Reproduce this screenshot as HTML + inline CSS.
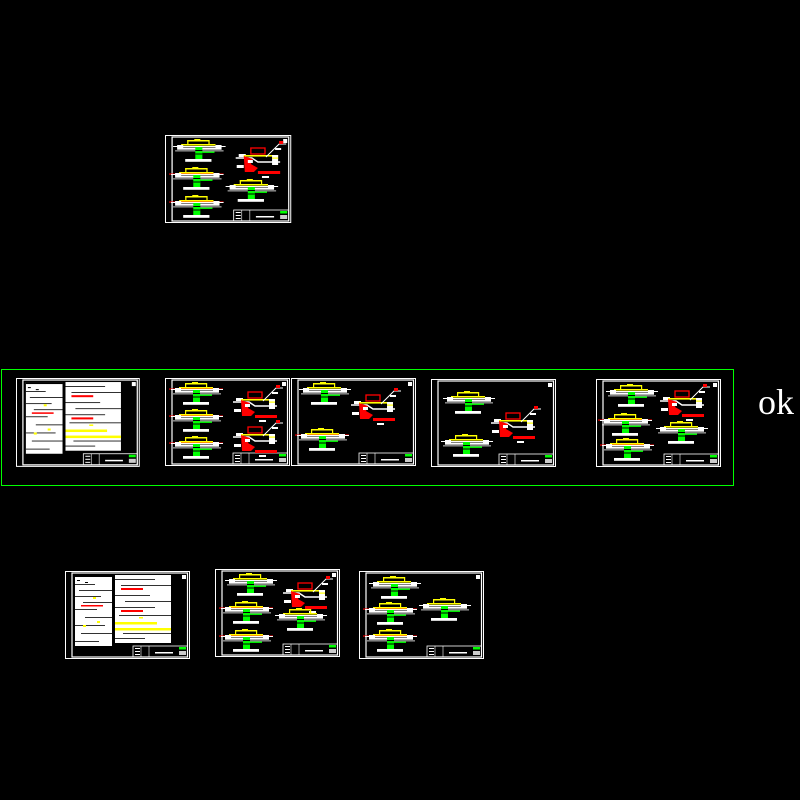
<!DOCTYPE html>
<html><head><meta charset="utf-8"><style>html,body{margin:0;padding:0;background:#000;width:800px;height:800px;overflow:hidden}</style></head>
<body>
<svg width="800" height="800" viewBox="0 0 800 800" xmlns="http://www.w3.org/2000/svg">
<defs>
<g id="frame">
 <rect x="0.5" y="0.5" width="124" height="87" fill="none" stroke="#fff" stroke-width="1"/>
 <line x1="7" y1="2" x2="7" y2="86" stroke="#fff" stroke-width="1"/>
 <rect x="7" y="2" width="115.5" height="84" fill="none" stroke="#fff" stroke-width="1.2"/>
 <rect x="68" y="75" width="54.5" height="11" fill="none" stroke="#fff" stroke-width="0.8"/>
 <line x1="76" y1="75" x2="76" y2="86" stroke="#fff" stroke-width="0.6"/>
 <line x1="84" y1="75" x2="84" y2="86" stroke="#fff" stroke-width="0.6"/>
 <rect x="70" y="77" width="5" height="1" fill="#fff"/><rect x="70" y="80" width="5" height="1" fill="#fff"/><rect x="70" y="83" width="5" height="1" fill="#fff"/>
 <rect x="90" y="81" width="18" height="1.5" fill="#fff"/>
 <rect x="114" y="76" width="7" height="2.5" fill="#0f0"/>
 <rect x="114" y="80" width="7" height="4" fill="#fff" opacity="0.8"/>
 <rect x="117" y="4" width="4" height="4" fill="#fff"/>
</g>
<g id="sec">
 <rect x="14" y="-1" width="22" height="1.5" fill="#ff0"/>
 <rect x="14" y="-1" width="1.2" height="4" fill="#ff0"/><rect x="35" y="-1" width="1.2" height="4" fill="#ff0"/>
 <rect x="21" y="-2" width="6" height="2" fill="#ff0"/>
 <rect x="8" y="3" width="34" height="1.6" fill="#ff0"/>
 <rect x="0" y="5" width="52" height="1" fill="#fff"/>
 <rect x="4" y="6.5" width="44" height="2.2" fill="#fff"/>
 <rect x="2" y="9.5" width="48" height="0.8" fill="#fff"/>
 <rect x="4" y="4" width="6" height="3" fill="#fff"/><rect x="42" y="4" width="6" height="3" fill="#fff"/>
 <rect x="22" y="6" width="7" height="12" fill="#0f0"/>
 <rect x="22" y="9" width="7" height="1" fill="#000"/><rect x="22" y="12.5" width="7" height="1" fill="#000"/>
 <rect x="29" y="10.5" width="12" height="1.4" fill="#0f0"/>
 <rect x="12" y="18" width="26" height="2.8" fill="#fff"/>
</g>
<g id="secr">
 <rect x="0" y="4.5" width="54" height="1.1" fill="#f00"/>
 <use href="#sec" x="2"/>
</g>
<g id="det">
 <rect x="1" y="7" width="7" height="3" fill="#fff"/>
 <rect x="13" y="1" width="14" height="6" fill="none" stroke="#f00" stroke-width="1.3"/>
 <rect x="6" y="8" width="34" height="1.6" fill="#ff0"/>
 <path d="M-2 11 H14 L20 15 H42" stroke="#fff" fill="none" stroke-width="1.4"/>
 <path d="M6 9 l9 3 l-2 5 l7 4 l-4 4 h-9 z" fill="#f00"/>
 <rect x="10" y="13" width="5" height="3" fill="#fff"/>
 <path d="M28 10 L41 -3 H48" stroke="#fff" fill="none" stroke-width="1"/>
 <rect x="41" y="-6" width="4" height="3" fill="#f00"/>
 <rect x="34" y="8" width="6" height="10" fill="#fff"/><rect x="34" y="10.5" width="6" height="1.2" fill="#ff0"/>
 <rect x="20" y="24" width="22" height="3" fill="#f00"/>
 <rect x="24" y="29" width="7" height="2" fill="#fff"/>
 <rect x="-1" y="18" width="7" height="3" fill="#fff"/>
 <rect x="37" y="1" width="6" height="2" fill="#fff"/>
</g>
<g id="txt">
 <g fill="#fff">
 <rect x="10" y="4" width="37" height="71"/>
 <rect x="50" y="4" width="56" height="68"/>
 </g>
 <g fill="#000">
 <rect x="10" y="4" width="37" height="2"/>
 <rect x="12" y="9" width="3" height="1"/><rect x="20" y="11" width="3" height="1"/>
 <rect x="10" y="13" width="20" height="0.8"/><rect x="14" y="19" width="33" height="0.8"/><rect x="10" y="25" width="26" height="0.8"/>
 <rect x="18" y="31" width="29" height="0.8"/><rect x="10" y="38" width="22" height="0.8"/><rect x="20" y="46" width="27" height="0.8"/>
 <rect x="10" y="54" width="30" height="0.8"/><rect x="16" y="62" width="31" height="0.8"/><rect x="10" y="70" width="24" height="0.8"/>
 <rect x="50" y="8" width="40" height="0.8"/><rect x="56" y="14" width="50" height="0.8"/><rect x="50" y="24" width="35" height="0.8"/>
 <rect x="60" y="30" width="46" height="0.8"/><rect x="50" y="36" width="40" height="0.8"/><rect x="54" y="44" width="52" height="0.8"/>
 <rect x="58" y="62" width="48" height="0.8"/><rect x="50" y="67" width="30" height="0.8"/>
 </g>
 <rect x="56" y="17" width="22" height="2" fill="#f00"/>
 <rect x="16" y="34" width="22" height="1.5" fill="#f00"/>
 <rect x="56" y="39" width="22" height="2" fill="#f00"/>
 <rect x="50" y="51" width="42" height="2.5" fill="#ff0"/>
 <rect x="50" y="57" width="56" height="2.5" fill="#ff0"/>
 <rect x="28" y="26" width="3" height="2" fill="#ff0"/><rect x="18" y="54" width="3" height="2" fill="#ff0"/><rect x="32" y="50" width="3" height="2" fill="#ff0"/>
 <rect x="74" y="46" width="4" height="1.5" fill="#ff0"/>
</g>
</defs>

<g transform="translate(165,135) scale(1.01,1.0)">
 <use href="#frame"/>
 <use href="#sec" x="8" y="6"/>
 <use href="#det" x="72" y="12"/>
 <use href="#secr" x="4" y="34"/>
 <use href="#sec" x="60" y="46"/>
 <use href="#secr" x="4" y="62"/>
</g>

<rect x="1.5" y="369.5" width="732" height="116" fill="none" stroke="#0f0" stroke-width="1"/>

<g transform="translate(16,378) scale(0.99,1.01)"><use href="#frame"/><use href="#txt"/></g>
<g transform="translate(165,378)">
 <use href="#frame"/>
 <use href="#secr" x="4" y="6"/>
 <use href="#det" x="70" y="13"/>
 <use href="#secr" x="4" y="33"/>
 <use href="#det" x="70" y="48"/>
 <use href="#secr" x="4" y="60"/>
</g>
<g transform="translate(291,378)">
 <use href="#frame"/>
 <use href="#sec" x="8" y="6"/>
 <use href="#det" x="62" y="16"/>
 <use href="#secr" x="4" y="52"/>
</g>
<g transform="translate(431,379)">
 <use href="#frame"/>
 <use href="#sec" x="12" y="14"/>
 <use href="#det" x="62" y="33"/>
 <use href="#sec" x="10" y="57"/>
</g>
<g transform="translate(596,379)">
 <use href="#frame"/>
 <use href="#sec" x="10" y="7"/>
 <use href="#det" x="66" y="11"/>
 <use href="#secr" x="2" y="36"/>
 <use href="#sec" x="60" y="44"/>
 <use href="#secr" x="4" y="61"/>
</g>

<text x="758" y="414" fill="#fff" font-family="Liberation Serif, serif" font-size="36">ok</text>

<g transform="translate(65,571)"><use href="#frame"/><use href="#txt"/></g>
<g transform="translate(215,569)">
 <use href="#frame"/>
 <use href="#sec" x="10" y="6"/>
 <use href="#det" x="70" y="13"/>
 <use href="#secr" x="4" y="34"/>
 <use href="#sec" x="60" y="41"/>
 <use href="#secr" x="4" y="62"/>
</g>
<g transform="translate(359,571)">
 <use href="#frame"/>
 <use href="#sec" x="10" y="7"/>
 <use href="#secr" x="4" y="33"/>
 <use href="#sec" x="60" y="29"/>
 <use href="#secr" x="4" y="60"/>
</g>
</svg>
</body></html>
